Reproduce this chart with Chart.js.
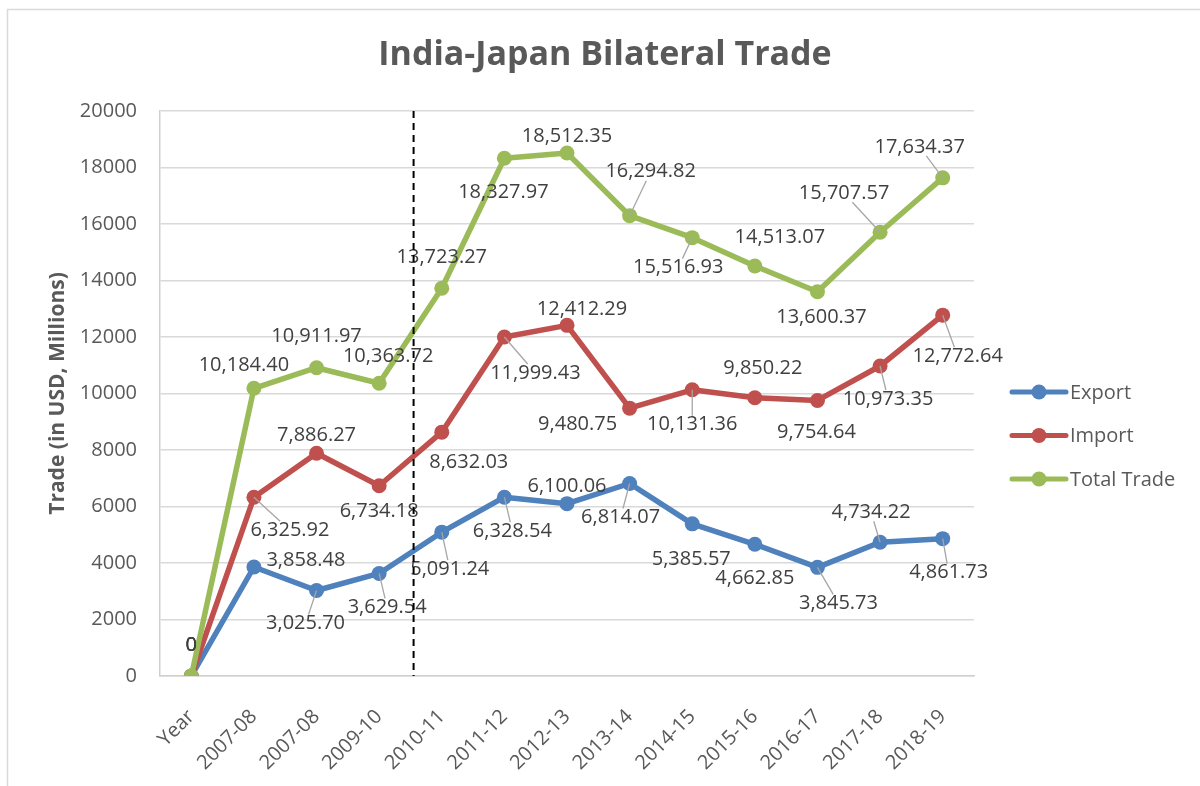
<!DOCTYPE html>
<html>
<head>
<meta charset="utf-8">
<title>India-Japan Bilateral Trade</title>
<script src="https://cdn.jsdelivr.net/npm/chart.js@4.4.1/dist/chart.umd.min.js"></script>
<style>
	html, body { margin: 0; padding: 0; background: #ffffff; }
	#wrap { width: 1200px; height: 786px; }
</style>
</head>
<body>
<div id="wrap"><canvas id="Trade_Plot" width="1200" height="786"></canvas></div>
<script>

// Data
const years = ["Year", "2007-08", "2007-08", "2009-10", "2010-11", "2011-12", "2012-13", "2013-14", "2014-15", "2015-16", "2016-17", "2017-18", "2018-19"];
const exportValues = [0, 3858.48, 3025.70, 3629.54, 5091.24, 6328.54, 6100.06, 6814.07, 5385.57, 4662.85, 3845.73, 4734.22, 4861.73];
const importValues = [0, 6325.92, 7886.27, 6734.18, 8632.03, 11999.43, 12412.29, 9480.75, 10131.36, 9850.22, 9754.64, 10973.35, 12772.64];
const totalValues = [0, 10184.40, 10911.97, 10363.72, 13723.27, 18327.97, 18512.35, 16294.82, 15516.93, 14513.07, 13600.37, 15707.57, 17634.37];
const yTicks = [0, 2000, 4000, 6000, 8000, 10000, 12000, 14000, 16000, 18000, 20000];
const chartTitle = "India-Japan Bilateral Trade";

// Divider sits a little right of the gap between 2009-10 and 2010-11 (category units)
const dividerAt = 3.55;

// Data label placement: [dx, dy, leader line?] in px from the point
const exportLabelPos = [[0,-31,0],[52,-7,0],[-11,33,1],[8,34,1],[8,37,1],[8,34,1],[0,-17,0],[-9,34,1],[-1,35,0],[0,34,0],[21,36,1],[-9,-30,1],[6,34,1]];
const importLabelPos = [[0,-31,0],[36,33,1],[0,-18,0],[0,26,0],[27,30,0],[31,36,1],[15,-16,0],[-52,16,0],[0,35,1],[8,-29,0],[-1,32,0],[8,33,1],[15,41,1]];
const totalLabelPos = [[0,-31,0],[-10,-23,0],[0,-31,0],[9,-27,0],[0,-31,0],[-1,34,0],[0,-17,0],[21,-44,1],[-14,30,1],[25,-29,0],[4,26,0],[-36,-39,1],[-23,-31,1]];

const FONT = "'Open Sans', 'Liberation Sans', sans-serif";

Chart.defaults.font.family = FONT;
Chart.defaults.font.size = 20;
Chart.defaults.color = "#595959";

function fmt(v) {
	if (v === 0) return "0";
	return v.toLocaleString("en-US", { minimumFractionDigits: 2, maximumFractionDigits: 2 });
}

// Frame, title, labels with leader lines, dashed divider and legend
const decorPlugin = {
	id: "decor",
	beforeDraw(chart) {
		const ctx = chart.ctx;
		ctx.save();
		ctx.fillStyle = "#ffffff";
		ctx.fillRect(0, 0, chart.width, chart.height);
		ctx.strokeStyle = "#d9d9d9";
		ctx.lineWidth = 1.5;
		ctx.beginPath();
		ctx.moveTo(7.5, chart.height);
		ctx.lineTo(7.5, 9.5);
		ctx.lineTo(chart.width, 9.5);
		ctx.stroke();

		ctx.fillStyle = "#595959";
		ctx.font = "bold 34px " + FONT;
		ctx.textAlign = "center";
		ctx.textBaseline = "middle";
		ctx.fillText(chartTitle, 605, 55);
		ctx.restore();
	},
	afterDatasetsDraw(chart) {
		const ctx = chart.ctx;
		ctx.save();
		ctx.font = "20px " + FONT;
		ctx.textAlign = "center";
		ctx.textBaseline = "middle";
		chart.data.datasets.forEach((ds, di) => {
			const meta = chart.getDatasetMeta(di);
			meta.data.forEach((pt, i) => {
				const pos = ds.labelPos[i];
				const txt = fmt(ds.data[i]);
				const lx = pt.x + pos[0];
				const ly = pt.y + pos[1];
				if (pos[2]) {
					const w = ctx.measureText(txt).width / 2 + 3;
					const h = 9;
					const dx = pos[0], dy = pos[1];
					let t = 0;
					if (dx !== 0) t = Math.max(t, (Math.abs(dx) - w) / Math.abs(dx));
					if (dy !== 0) t = Math.max(t, (Math.abs(dy) - h) / Math.abs(dy));
					if (t > 0) {
						ctx.strokeStyle = "#a6a6a6";
						ctx.lineWidth = 1.3;
						ctx.beginPath();
						ctx.moveTo(pt.x, pt.y);
						ctx.lineTo(pt.x + dx * t, pt.y + dy * t);
						ctx.stroke();
					}
				}
				ctx.fillStyle = "#404040";
				ctx.fillText(txt, lx, ly);
			});
		});

		// dashed divider
		const xs = chart.scales.x;
		const a = xs.getPixelForValue(Math.floor(dividerAt));
		const b = xs.getPixelForValue(Math.ceil(dividerAt));
		const dxp = a + (b - a) * (dividerAt - Math.floor(dividerAt));
		ctx.strokeStyle = "#000000";
		ctx.lineWidth = 2;
		ctx.setLineDash([7, 5]);
		ctx.beginPath();
		ctx.moveTo(dxp, chart.chartArea.top);
		ctx.lineTo(dxp, chart.chartArea.bottom);
		ctx.stroke();
		ctx.setLineDash([]);

		// legend
		const lx0 = 1012, lx1 = 1066;
		ctx.textAlign = "left";
		ctx.font = "20px " + FONT;
		chart.data.datasets.forEach((ds, di) => {
			const y = 392 + di * 43.5;
			ctx.strokeStyle = ds.borderColor;
			ctx.lineWidth = 5;
			ctx.lineCap = "round";
			ctx.beginPath();
			ctx.moveTo(lx0, y);
			ctx.lineTo(lx1, y);
			ctx.stroke();
			ctx.fillStyle = ds.borderColor;
			ctx.beginPath();
			ctx.arc((lx0 + lx1) / 2, y, 7.5, 0, Math.PI * 2);
			ctx.fill();
			ctx.fillStyle = "#595959";
			ctx.fillText(ds.label, lx1 + 4, y + 1);
		});
		ctx.restore();
	}
};

const trade_plot = document.getElementById("Trade_Plot").getContext("2d");

var Trade_Plot_Obj = new Chart(trade_plot, {
	type: "line",
	data: {
		labels: years,
		datasets: [
			{
				label: "Export",
				data: exportValues,
				labelPos: exportLabelPos,
				borderColor: "#4F81BD",
				backgroundColor: "#4F81BD",
				order: 3,
			},
			{
				label: "Import",
				data: importValues,
				labelPos: importLabelPos,
				borderColor: "#C0504D",
				backgroundColor: "#C0504D",
				order: 2,
			},
			{
				label: "Total Trade",
				data: totalValues,
				labelPos: totalLabelPos,
				borderColor: "#9BBB59",
				backgroundColor: "#9BBB59",
				order: 1,
			}
		]
	},
	options: {
		responsive: false,
		animation: false,
		devicePixelRatio: 1,
		layout: {
			padding: { left: 20, right: 226, top: 111, bottom: 0 }
		},
		elements: {
			line: { borderWidth: 5.5, tension: 0, fill: false, borderCapStyle: "round", borderJoinStyle: "round" },
			point: { radius: 7.5, borderWidth: 0, hoverRadius: 7.5 }
		},
		plugins: {
			legend: { display: false },
			tooltip: { enabled: false },
			title: { display: false }
		},
		scales: {
			x: {
				offset: true,
				grid: { display: false, drawTicks: false },
				border: { display: true, color: "#d0d0d0", width: 1.5 },
				ticks: {
					color: "#595959",
					font: { size: 20 },
					minRotation: 45,
					maxRotation: 45,
					padding: 29,
					autoSkip: false
				},
				afterFit(scale) { scale.height = 110; }
			},
			y: {
				min: 0,
				max: 20000,
				afterBuildTicks(scale) { scale.ticks = yTicks.map(v => ({ value: v })); },
				grid: { color: "#d9d9d9", lineWidth: 1.5, drawTicks: false },
				border: { display: true, color: "#d0d0d0", width: 1.5 },
				ticks: {
					color: "#595959",
					font: { size: 20 },
					padding: 23,
					callback: (v) => String(v)
				},
				title: {
					display: true,
					text: "Trade (in USD, Millions)",
					color: "#595959",
					font: { size: 21, weight: "bold" },
					padding: { top: 25, bottom: 0 }
				},
				afterFit(scale) { scale.width = 140; }
			}
		},
		events: [],
	},
	plugins: [decorPlugin]
});

</script>
</body>
</html>
